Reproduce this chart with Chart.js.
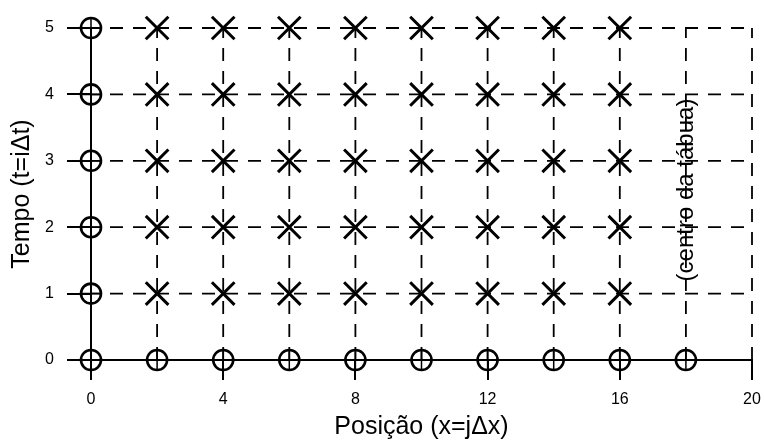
<!DOCTYPE html>
<html>
<head>
<meta charset="utf-8">
<script src="https://cdn.jsdelivr.net/npm/chart.js@4.4.1/dist/chart.umd.min.js"></script>
<style>
  html, body { margin: 0; padding: 0; background: #ffffff; }
  #wrap { width: 764px; height: 440px; }
</style>
</head>
<body>
<div id="wrap"><canvas id="grid" width="764" height="440"></canvas></div>
<script>
// Mesh nodes for the finite-difference scheme
const initialRowX   = [0, 2, 4, 6, 8, 10, 12, 14, 16, 18];   // known values at t = 0
const boundaryColT  = [1, 2, 3, 4, 5];                        // known values at x = 0
const interiorX     = [2, 4, 6, 8, 10, 12, 14, 16];           // unknown nodes (x)
const interiorT     = [1, 2, 3, 4, 5];                        // unknown nodes (t)

// Dashed mesh lines
const meshLinesX = [2, 4, 6, 8, 10, 12, 14, 16, 18, 20];
const meshLinesT = [1, 2, 3, 4, 5];

// Axis ranges and tick steps
const xRange = [0, 20];
const tRange = [0, 5];
const xTickStep = 4;
const tTickStep = 1;

// Label for the board centre
const centreLabel = '(centro da tábua)';
const centreLabelPos = { x: 18, t: 2.56 };

const xTitle = 'Posição (x=jΔx)';
const tTitle = 'Tempo (t=iΔt)';

// Build point tables
const knownNodes = initialRowX.map(x => ({ x: x, y: 0 }))
  .concat(boundaryColT.map(t => ({ x: 0, y: t })));
const unknownNodes = [];
interiorT.forEach(t => interiorX.forEach(x => unknownNodes.push({ x: x, y: t })));

// Line tables, broken with nulls between segments
const verticalMesh = [];
meshLinesX.forEach(x => {
  verticalMesh.push({ x: x, y: tRange[0] }, { x: x, y: tRange[1] }, { x: x, y: null });
});
const horizontalMesh = [];
meshLinesT.forEach(t => {
  horizontalMesh.push({ x: xRange[0], y: t }, { x: xRange[1], y: t }, { x: xRange[1], y: null });
});

const FONT = "'Liberation Sans', Arial, sans-serif";

const centreLabelPlugin = {
  id: 'centreLabel',
  afterDatasetsDraw(chart) {
    const { ctx, scales } = chart;
    const px = scales.x.getPixelForValue(centreLabelPos.x);
    const py = scales.y.getPixelForValue(centreLabelPos.t);
    ctx.save();
    ctx.translate(px, py);
    ctx.rotate(-Math.PI / 2);
    ctx.font = '24px ' + FONT;
    ctx.fillStyle = '#000';
    ctx.textAlign = 'center';
    ctx.textBaseline = 'middle';
    ctx.fillText(centreLabel, 0, 0);
    ctx.restore();
  }
};

new Chart(document.getElementById('grid'), {
  type: 'scatter',
  data: {
    datasets: [
      {
        label: 'nós conhecidos',
        data: knownNodes,
        clip: false,
        pointStyle: 'circle',
        pointRadius: 10,
        borderWidth: 2.6,
        borderColor: '#000',
        backgroundColor: 'rgba(0,0,0,0)'
      },
      {
        label: 'nós conhecidos (cruz)',
        data: knownNodes,
        clip: false,
        pointStyle: 'cross',
        pointRadius: 10,
        borderWidth: 1.5,
        borderColor: '#000'
      },
      {
        label: 'nós desconhecidos',
        data: unknownNodes,
        clip: false,
        pointStyle: 'crossRot',
        pointRadius: 16,
        borderWidth: 3,
        borderColor: '#000'
      },
      {
        label: 'malha vertical',
        data: verticalMesh,
        clip: false,
        showLine: true,
        spanGaps: false,
        borderColor: '#000',
        borderWidth: 1.8,
        borderDash: [13, 10],
        pointRadius: 0
      },
      {
        label: 'malha horizontal',
        data: horizontalMesh,
        clip: false,
        showLine: true,
        spanGaps: false,
        borderColor: '#000',
        borderWidth: 1.8,
        borderDash: [13, 10],
        borderDashOffset: 4,
        pointRadius: 0
      }
    ]
  },
  options: {
    responsive: false,
    animation: false,
    events: [],
    layout: { autoPadding: false, padding: { left: 0, right: 12, top: 28, bottom: 0 } },
    plugins: { legend: { display: false }, tooltip: { enabled: false } },
    scales: {
      x: {
        type: 'linear',
        min: xRange[0],
        max: xRange[1],
        afterFit(scale) { scale.height = 80; scale.paddingLeft = 0; scale.paddingRight = 0; },
        ticks: { stepSize: xTickStep, color: '#000', padding: 10, font: { family: FONT, size: 16 } },
        grid: { drawOnChartArea: false, drawTicks: true, tickLength: 20, color: '#000', lineWidth: 2 },
        border: { display: true, color: '#000', width: 2 },
        title: { display: true, text: xTitle, color: '#000', padding: { top: 0, bottom: 0 }, font: { family: FONT, size: 25, lineHeight: 1 } }
      },
      y: {
        type: 'linear',
        min: tRange[0],
        max: tRange[1],
        afterFit(scale) { scale.width = 91; scale.paddingTop = 0; scale.paddingBottom = 0; },
        ticks: { stepSize: tTickStep, color: '#000', padding: 13, font: { family: FONT, size: 16 } },
        grid: { drawOnChartArea: false, drawTicks: true, tickLength: 24, color: '#000', lineWidth: 2 },
        border: { display: true, color: '#000', width: 2 },
        title: { display: true, text: tTitle, color: '#000', padding: { top: 10, bottom: 0 }, font: { family: FONT, size: 25, lineHeight: 1 } }
      }
    }
  },
  plugins: [centreLabelPlugin]
});
</script>
</body>
</html>
